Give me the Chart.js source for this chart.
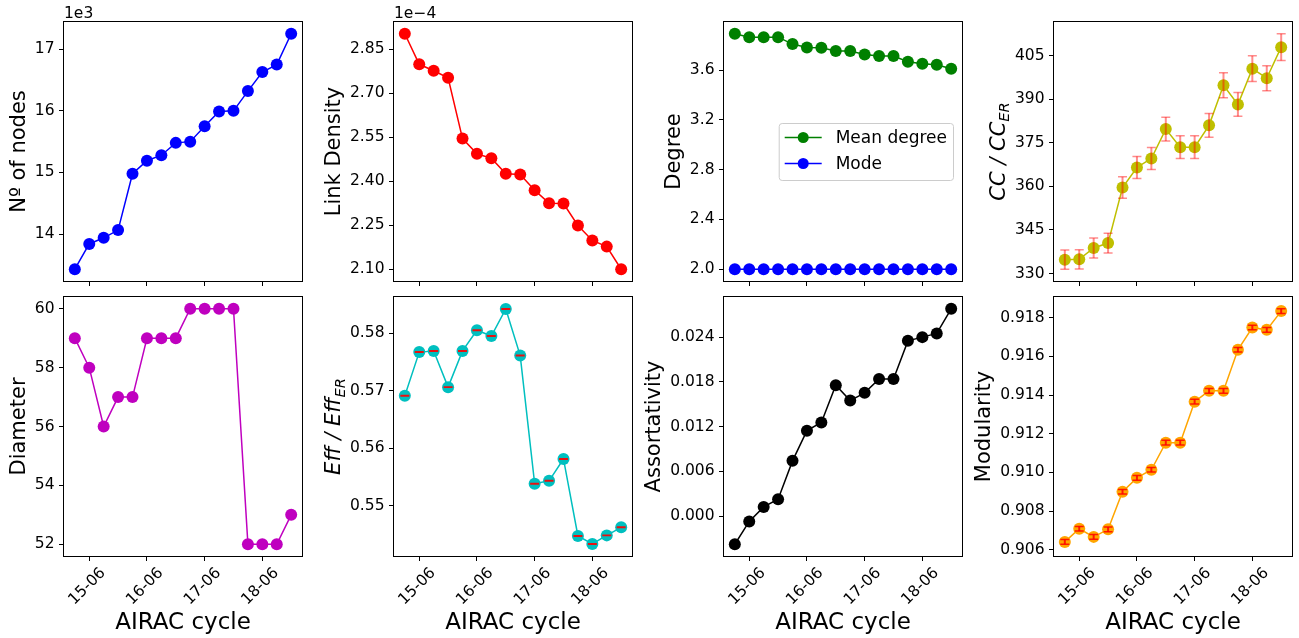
<!DOCTYPE html>
<html>
<head>
<meta charset="utf-8">
<script src="https://cdn.jsdelivr.net/npm/chart.js@4.4.1/dist/chart.umd.min.js"></script>
<style>
  html, body { margin: 0; padding: 0; background: #fff; }
  body { width: 1299px; height: 638px; position: relative; overflow: hidden; }
  canvas.panel { position: absolute; }
</style>
</head>
<body>
<script>
const FONT = "'DejaVu Sans', sans-serif";
Chart.defaults.font.family = FONT;
Chart.defaults.color = '#000';
Chart.defaults.animation = false;

// x positions of the 16 AIRAC cycles and the labelled ones
const cycleIdx = [0, 1, 2, 3, 4, 5, 6, 7, 8, 9, 10, 11, 12, 13, 14, 15];
const cycleTickPos = [1, 5, 9, 13];
const cycleTickLabels = ['15-06', '16-06', '17-06', '18-06'];

const nodes = [13430, 13840, 13940, 14065, 14980, 15190, 15280, 15480, 15500, 15750, 15990, 16000, 16320, 16630, 16750, 17250];
const nodesTicks = [14000, 15000, 16000, 17000];

const linkDensity = [2.902e-4, 2.798e-4, 2.776e-4, 2.752e-4, 2.545e-4, 2.493e-4, 2.478e-4, 2.425e-4, 2.423e-4, 2.369e-4, 2.325e-4, 2.324e-4, 2.249e-4, 2.198e-4, 2.177e-4, 2.100e-4];
const linkDensityTicks = [2.10e-4, 2.25e-4, 2.40e-4, 2.55e-4, 2.70e-4, 2.85e-4];

const meanDegree = [3.892, 3.865, 3.865, 3.865, 3.809, 3.782, 3.780, 3.753, 3.753, 3.726, 3.713, 3.713, 3.667, 3.651, 3.643, 3.611];
const modeDegree = [2, 2, 2, 2, 2, 2, 2, 2, 2, 2, 2, 2, 2, 2, 2, 2];
const degreeTicks = [2.0, 2.4, 2.8, 3.2, 3.6];

const ccRatio = [334.8, 334.9, 338.8, 340.5, 359.6, 366.5, 369.6, 379.7, 373.5, 373.5, 381.0, 394.8, 388.2, 400.5, 397.2, 407.9];
const ccErr = [3.3, 3.3, 3.4, 3.4, 3.7, 3.8, 3.8, 4.1, 3.9, 3.9, 4.1, 4.3, 4.1, 4.4, 4.3, 4.6];
const ccTicks = [330, 345, 360, 375, 390, 405];

const diameter = [59, 58, 56, 57, 57, 59, 59, 59, 60, 60, 60, 60, 52, 52, 52, 53];
const diameterTicks = [52, 54, 56, 58, 60];

const effRatio = [0.5691, 0.5767, 0.5769, 0.5706, 0.5769, 0.5805, 0.5795, 0.5842, 0.5761, 0.5538, 0.5543, 0.5581, 0.5447, 0.5433, 0.5448, 0.5462];
const effErr = [0.00004, 0.00004, 0.00004, 0.00004, 0.00004, 0.00004, 0.00004, 0.00004, 0.00004, 0.00004, 0.00004, 0.00004, 0.00004, 0.00004, 0.00004, 0.00004];
const effTicks = [0.55, 0.56, 0.57, 0.58];

const assortativity = [-0.00375, -0.0007, 0.00125, 0.00228, 0.00742, 0.01147, 0.01256, 0.01756, 0.0155, 0.01654, 0.0184, 0.0184, 0.0235, 0.0240, 0.0245, 0.0278];
const assortTicks = [0.000, 0.006, 0.012, 0.018, 0.024];

const modularity = [0.90641, 0.90709, 0.90667, 0.90706, 0.90900, 0.90972, 0.91014, 0.91154, 0.91154, 0.91366, 0.91422, 0.91422, 0.91634, 0.91749, 0.91737, 0.91834];
const modErr = [0.00012, 0.00012, 0.00012, 0.00012, 0.00012, 0.00012, 0.00012, 0.00012, 0.00012, 0.00012, 0.00012, 0.00012, 0.00012, 0.00012, 0.00012, 0.00012];
const modTicks = [0.906, 0.908, 0.910, 0.912, 0.914, 0.916, 0.918];

// layout (px)
const PLOT_LEFT = [64, 394, 724, 1054];
const PLOT_W = 238;
const AXIS_W = 90;
const RIGHT_PAD = 6;
const ROWS = [
  { top: 0,   height: 290, padTop: 22, xAxisH: 9 },
  { top: 290, height: 348, padTop: 7,  xAxisH: 82 },
];
const TICK_LEN = 5;
const TICK_PAD = 4.5;
const TICK_FONT = 15.5;
const YLABEL_FONT = 21;

const panels = [
  { row: 0, col: 0, series: [{ data: nodes, color: '#0000ff' }], yTicks: nodesTicks,
    fmt: v => (v / 1e3).toFixed(0), offsetText: '1e3', ylabel: [{ t: 'Nº of nodes' }] },
  { row: 0, col: 1, series: [{ data: linkDensity, color: '#ff0000' }], yTicks: linkDensityTicks,
    fmt: v => (v * 1e4).toFixed(2), offsetText: '1e\u22124', ylabel: [{ t: 'Link Density' }] },
  { row: 0, col: 2, series: [{ data: meanDegree, color: '#008000', label: 'Mean degree' },
                             { data: modeDegree, color: '#0000ff', label: 'Mode' }],
    yTicks: degreeTicks, fmt: v => v.toFixed(1), legend: true, ylabel: [{ t: 'Degree' }] },
  { row: 0, col: 3, series: [{ data: ccRatio, color: '#bfbf00' }], err: ccErr, errColor: 'rgba(255,0,0,0.45)',
    yTicks: ccTicks, fmt: v => v.toFixed(0),
    ylabel: [{ t: 'CC / CC', it: true }, { t: 'ER', it: true, sub: true }] },
  { row: 1, col: 0, series: [{ data: diameter, color: '#bf00bf' }], yTicks: diameterTicks,
    fmt: v => v.toFixed(0), ylabel: [{ t: 'Diameter' }] },
  { row: 1, col: 1, series: [{ data: effRatio, color: '#00bfbf' }], err: effErr, errColor: 'rgba(255,0,0,0.9)',
    yTicks: effTicks, fmt: v => v.toFixed(2),
    ylabel: [{ t: 'Eff / Eff', it: true }, { t: 'ER', it: true, sub: true }] },
  { row: 1, col: 2, series: [{ data: assortativity, color: '#000000' }], yTicks: assortTicks,
    fmt: v => v.toFixed(3), ylabel: [{ t: 'Assortativity' }] },
  { row: 1, col: 3, series: [{ data: modularity, color: '#ffa500' }], err: modErr, errColor: 'rgba(255,0,0,0.85)',
    yTicks: modTicks, fmt: v => v.toFixed(3), ylabel: [{ t: 'Modularity' }] },
];

// matplotlib-style 5% autoscale margins
function autoRange(lo, hi) {
  const m = (hi - lo) * 0.05;
  return [lo - m, hi + m];
}

function yRange(p) {
  let lo = Infinity, hi = -Infinity;
  p.series.forEach(s => s.data.forEach((v, i) => {
    const e = p.err ? p.err[i] : 0;
    lo = Math.min(lo, v - e);
    hi = Math.max(hi, v + e);
  }));
  return autoRange(lo, hi);
}

function drawYLabel(chart, p) {
  const { ctx, chartArea: a } = chart;
  ctx.save();
  ctx.font = `${TICK_FONT}px ${FONT}`;
  const widest = Math.max(...chart.scales.y.ticks.map(t => ctx.measureText(t.label).width));
  const base = a.left - (TICK_LEN + TICK_PAD + widest + 5.6 + 4.5);
  const segFont = s => `${s.it ? 'italic ' : ''}${s.sub ? YLABEL_FONT * 0.7 : YLABEL_FONT}px ${FONT}`;
  let total = 0;
  p.ylabel.forEach(s => { ctx.font = segFont(s); s.w = ctx.measureText(s.t).width; total += s.w; });
  ctx.translate(base, (a.top + a.bottom) / 2);
  ctx.rotate(-Math.PI / 2);
  ctx.fillStyle = '#000';
  ctx.textBaseline = 'alphabetic';
  let x = -total / 2;
  p.ylabel.forEach(s => {
    ctx.font = segFont(s);
    ctx.fillText(s.t, x, s.sub ? YLABEL_FONT * 0.22 : 0);
    x += s.w;
  });
  ctx.restore();
}

function drawErrorBars(chart, p) {
  const { ctx } = chart;
  const xs = chart.scales.x, ys = chart.scales.y;
  const vals = p.series[0].data;
  ctx.save();
  ctx.strokeStyle = p.errColor;
  cycleIdx.forEach((xv, i) => {
    const px = xs.getPixelForValue(xv);
    const y0 = ys.getPixelForValue(vals[i] - p.err[i]);
    const y1 = ys.getPixelForValue(vals[i] + p.err[i]);
    ctx.lineWidth = 2;
    ctx.beginPath(); ctx.moveTo(px, y0); ctx.lineTo(px, y1); ctx.stroke();
    ctx.lineWidth = 1.5;
    ctx.beginPath();
    ctx.moveTo(px - 4.5, y0); ctx.lineTo(px + 4.5, y0);
    ctx.moveTo(px - 4.5, y1); ctx.lineTo(px + 4.5, y1);
    ctx.stroke();
  });
  ctx.restore();
}

function drawLegend(chart) {
  const { ctx, chartArea: a } = chart;
  const size = 17;
  ctx.save();
  ctx.font = `${size}px ${FONT}`;
  const ds = chart.data.datasets;
  const textW = Math.max(...ds.map(d => ctx.measureText(d.label).width));
  const w = 6 + 37 + 14 + textW + 6;
  const h = 57;
  const x0 = a.right - 9 - w, y0 = a.top + 101;
  ctx.fillStyle = 'rgba(255,255,255,0.8)';
  ctx.strokeStyle = '#cccccc';
  ctx.lineWidth = 1;
  ctx.beginPath();
  ctx.roundRect(x0 + 0.5, y0 + 0.5, w, h, 3);
  ctx.fill(); ctx.stroke();
  ds.forEach((d, i) => {
    const cy = y0 + 14.5 + i * 26;
    ctx.strokeStyle = d.borderColor;
    ctx.lineWidth = 1.5;
    ctx.beginPath(); ctx.moveTo(x0 + 6, cy); ctx.lineTo(x0 + 43, cy); ctx.stroke();
    ctx.fillStyle = d.borderColor;
    ctx.beginPath(); ctx.arc(x0 + 24.5, cy, 5.5, 0, Math.PI * 2); ctx.fill();
    ctx.fillStyle = '#000';
    ctx.textBaseline = 'middle';
    ctx.fillText(d.label, x0 + 57, cy + 1);
  });
  ctx.restore();
}

const panelPlugin = {
  id: 'panelDecor',
  afterDatasetsDraw(chart, args, opts) {
    if (opts.panel.err) drawErrorBars(chart, opts.panel);
  },
  afterDraw(chart, args, opts) {
    const p = opts.panel;
    const { ctx, chartArea: a } = chart;
    ctx.save();
    ctx.strokeStyle = '#000';
    ctx.lineWidth = 1;
    ctx.strokeRect(a.left - 0.5, a.top - 0.5, a.right - a.left + 1, a.bottom - a.top + 1);
    if (p.offsetText) {
      ctx.font = `${TICK_FONT}px ${FONT}`;
      ctx.fillStyle = '#000';
      ctx.textBaseline = 'alphabetic';
      ctx.fillText(p.offsetText, a.left, a.top - 4);
    }
    ctx.restore();
    drawYLabel(chart, p);
    if (p.legend) drawLegend(chart);
  }
};

function makePanel(p) {
  const row = ROWS[p.row];
  const canvas = document.createElement('canvas');
  const w = AXIS_W + PLOT_W + RIGHT_PAD;
  canvas.className = 'panel';
  canvas.width = w;
  canvas.height = row.height;
  canvas.style.left = (PLOT_LEFT[p.col] - AXIS_W) + 'px';
  canvas.style.top = row.top + 'px';
  canvas.style.width = w + 'px';
  canvas.style.height = row.height + 'px';
  document.body.appendChild(canvas);

  const [xMin, xMax] = autoRange(cycleIdx[0], cycleIdx[cycleIdx.length - 1]);
  const [yMin, yMax] = yRange(p);
  const showX = p.row === 1;

  new Chart(canvas, {
    type: 'line',
    data: {
      datasets: p.series.map(s => ({
        label: s.label || '',
        data: cycleIdx.map((x, i) => ({ x, y: s.data[i] })),
        borderColor: s.color,
        backgroundColor: s.color,
        pointBackgroundColor: s.color,
        pointBorderWidth: 0,
        pointRadius: 6,
        borderWidth: 1.5,
        tension: 0,
        clip: false,
      }))
    },
    options: {
      responsive: false,
      devicePixelRatio: 1,
      layout: { padding: { left: 0, right: RIGHT_PAD, top: row.padTop, bottom: 0 } },
      plugins: {
        legend: { display: false },
        tooltip: { enabled: false },
        panelDecor: { panel: p },
      },
      scales: {
        x: {
          type: 'linear',
          min: xMin, max: xMax,
          afterBuildTicks: s => { s.ticks = cycleTickPos.map(v => ({ value: v })); },
          afterFit: s => { s.height = row.xAxisH; s.paddingLeft = 0; s.paddingRight = 0; },
          border: { display: false },
          grid: { drawOnChartArea: false, drawTicks: true, tickLength: TICK_LEN, color: '#000', lineWidth: 1 },
          ticks: {
            display: showX,
            autoSkip: false,
            minRotation: 45, maxRotation: 45,
            labelOffset: 14,
            padding: 3,
            color: '#000',
            font: { size: TICK_FONT },
            callback: v => cycleTickLabels[cycleTickPos.indexOf(v)],
          },
          title: {
            display: showX,
            text: 'AIRAC cycle',
            color: '#000',
            font: { size: 23 },
            padding: { top: 0, bottom: 1 },
          },
        },
        y: {
          type: 'linear',
          min: yMin, max: yMax,
          afterBuildTicks: s => { s.ticks = p.yTicks.map(v => ({ value: v })); },
          afterFit: s => { s.width = AXIS_W; s.paddingTop = 0; s.paddingBottom = 0; },
          border: { display: false },
          grid: { drawOnChartArea: false, drawTicks: true, tickLength: TICK_LEN, color: '#000', lineWidth: 1 },
          ticks: {
            padding: TICK_PAD,
            color: '#000',
            font: { size: TICK_FONT },
            callback: v => p.fmt(v),
          },
        },
      },
    },
    plugins: [panelPlugin],
  });
}

panels.forEach(makePanel);
</script>
</body>
</html>
